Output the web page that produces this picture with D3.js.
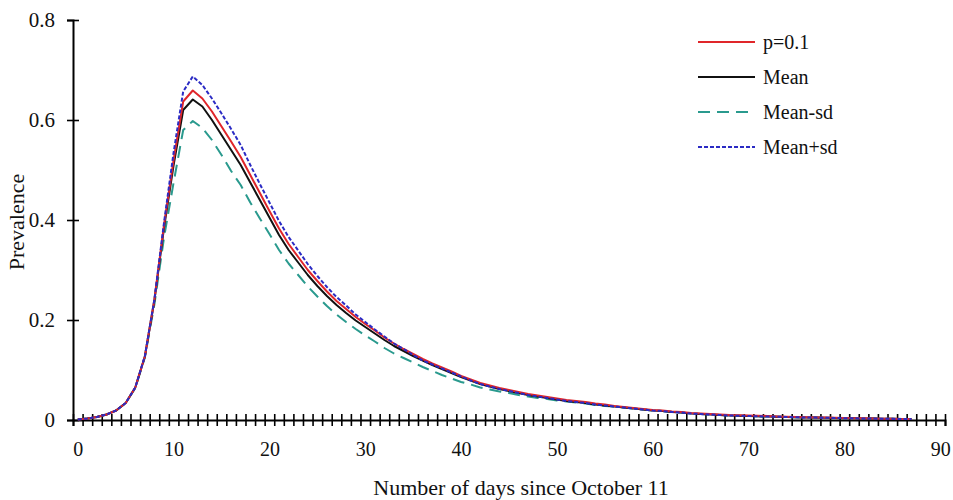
<!DOCTYPE html>
<html>
<head>
<meta charset="utf-8">
<script src="https://cdn.jsdelivr.net/npm/d3@7"></script>
<style>
  body { margin: 0; background: #fff; }
  text { font-family: "Liberation Serif", "Times New Roman", serif; }
</style>
</head>
<body>
<div id="chart"></div>
<script>
// days since October 11 (0..87)
var days = d3.range(0, 88);

var meanVals = [
  0.001, 0.003, 0.006, 0.011, 0.019, 0.034, 0.065, 0.127, 0.240, 0.385,
  0.510, 0.620, 0.641, 0.627, 0.600, 0.570, 0.540, 0.510, 0.475, 0.440,
  0.405, 0.370, 0.340, 0.315, 0.290, 0.268, 0.248, 0.230, 0.214, 0.199,
  0.186, 0.173, 0.160, 0.148, 0.138, 0.128, 0.119, 0.110, 0.102, 0.094,
  0.086, 0.079, 0.072, 0.067, 0.062, 0.058, 0.054, 0.050, 0.047, 0.044,
  0.041, 0.038, 0.036, 0.034, 0.031, 0.029, 0.027, 0.025, 0.023, 0.021,
  0.019, 0.018, 0.016, 0.015, 0.013, 0.012, 0.011, 0.010, 0.009, 0.0085,
  0.008, 0.0075, 0.007, 0.0065, 0.006, 0.0055, 0.005, 0.0048, 0.0045, 0.004,
  0.0037, 0.0034, 0.0031, 0.0028, 0.0025, 0.0023, 0.0021, 0.002
];

var p01Vals = [
  0.001, 0.003, 0.006, 0.011, 0.019, 0.034, 0.065, 0.127, 0.241, 0.390,
  0.520, 0.637, 0.659, 0.643, 0.617, 0.587, 0.557, 0.526, 0.490, 0.454,
  0.418, 0.383, 0.352, 0.326, 0.300, 0.278, 0.257, 0.238, 0.222, 0.206,
  0.192, 0.179, 0.165, 0.153, 0.142, 0.132, 0.122, 0.113, 0.105, 0.097,
  0.088, 0.081, 0.074, 0.069, 0.064, 0.060, 0.056, 0.052, 0.049, 0.046,
  0.043, 0.040, 0.038, 0.036, 0.033, 0.031, 0.028, 0.026, 0.024, 0.022,
  0.020, 0.019, 0.017, 0.016, 0.014, 0.013, 0.012, 0.011, 0.010, 0.0095,
  0.009, 0.0085, 0.008, 0.0072, 0.0066, 0.006, 0.0055, 0.0052, 0.0048, 0.0043,
  0.004, 0.0036, 0.0033, 0.003, 0.0027, 0.0025, 0.0022, 0.0021
];

var meanMinusSd = [
  0.001, 0.003, 0.006, 0.011, 0.019, 0.034, 0.064, 0.125, 0.232, 0.365,
  0.475, 0.580, 0.598, 0.584, 0.560, 0.530, 0.498, 0.470, 0.435, 0.403,
  0.372, 0.340, 0.313, 0.290, 0.267, 0.247, 0.228, 0.211, 0.196, 0.182,
  0.169, 0.157, 0.144, 0.133, 0.124, 0.115, 0.106, 0.098, 0.090, 0.083,
  0.076, 0.071, 0.065, 0.061, 0.057, 0.054, 0.050, 0.047, 0.044, 0.042,
  0.039, 0.037, 0.035, 0.033, 0.030, 0.028, 0.027, 0.025, 0.023, 0.021,
  0.019, 0.018, 0.016, 0.015, 0.013, 0.012, 0.011, 0.010, 0.009, 0.0085,
  0.008, 0.0075, 0.007, 0.0065, 0.006, 0.0055, 0.005, 0.0048, 0.0045, 0.004,
  0.0037, 0.0034, 0.0031, 0.0028, 0.0025, 0.0023, 0.0021, 0.002
];

var meanPlusSd = [
  0.001, 0.003, 0.006, 0.011, 0.019, 0.034, 0.065, 0.128, 0.242, 0.395,
  0.535, 0.657, 0.687, 0.670, 0.643, 0.613, 0.582, 0.550, 0.510, 0.472,
  0.435, 0.398, 0.366, 0.339, 0.312, 0.288, 0.266, 0.246, 0.229, 0.211,
  0.196, 0.181, 0.167, 0.153, 0.142, 0.130, 0.119, 0.111, 0.103, 0.095,
  0.087, 0.079, 0.072, 0.067, 0.062, 0.058, 0.054, 0.050, 0.047, 0.044,
  0.041, 0.038, 0.036, 0.034, 0.031, 0.029, 0.027, 0.025, 0.023, 0.021,
  0.019, 0.018, 0.016, 0.015, 0.013, 0.012, 0.011, 0.010, 0.009, 0.0085,
  0.008, 0.0075, 0.007, 0.0065, 0.006, 0.0055, 0.005, 0.0048, 0.0045, 0.004,
  0.0037, 0.0034, 0.0031, 0.0028, 0.0025, 0.0023, 0.0021, 0.002
];

var seriesNames = ["p=0.1", "Mean", "Mean-sd", "Mean+sd"];
var yTicks = [0, 0.2, 0.4, 0.6, 0.8];
var xTickLabels = [0, 10, 20, 30, 40, 50, 60, 70, 80, 90];

// layout
var svgWidth = 953, svgHeight = 500;
var plotLeft = 73, plotRight = 945, plotTop = 20, plotBottom = 420;

var svg = d3.select("#chart").append("svg")
  .attr("width", svgWidth)
  .attr("height", svgHeight);

// category axis: each day sits in the middle of its slot
var x = d3.scaleLinear().domain([-0.5, 90.5]).range([plotLeft, plotRight]);
var y = d3.scaleLinear().domain([0, 0.8]).range([plotBottom, plotTop]);

// y axis
var yAxis = d3.axisLeft(y)
  .tickValues(yTicks)
  .tickSize(6)
  .tickPadding(12)
  .tickFormat(function(d) { return d === 0 ? "0" : d3.format(".1f")(d); });

var yAxisG = svg.append("g")
  .attr("transform", "translate(" + plotLeft + ",0)")
  .call(yAxis);
yAxisG.selectAll(".tick line").attr("x1", 6).attr("x2", -6).attr("stroke-width", 1.6);
yAxisG.select(".domain").attr("stroke-width", 2);
yAxisG.selectAll("text").attr("font-size", 21).attr("fill", "#111");

// x axis: tick marks on category boundaries
var xBoundaries = d3.range(-0.5, 91, 1);
var xTickAxis = d3.axisBottom(x)
  .tickValues(xBoundaries)
  .tickSize(6)
  .tickFormat("");
var xTickG = svg.append("g")
  .attr("transform", "translate(0," + plotBottom + ")")
  .call(xTickAxis);
xTickG.selectAll(".tick line").attr("y1", -6).attr("y2", 6).attr("stroke-width", 1.6);
xTickG.select(".domain").attr("stroke-width", 2);

// x axis labels at category centres
var xLabelAxis = d3.axisBottom(x)
  .tickValues(xTickLabels)
  .tickSize(0)
  .tickPadding(22);
var xLabelG = svg.append("g")
  .attr("transform", "translate(0," + plotBottom + ")")
  .call(xLabelAxis);
xLabelG.select(".domain").remove();
xLabelG.selectAll("text").attr("font-size", 20).attr("fill", "#111");

// axis titles
svg.append("text")
  .attr("x", 521)
  .attr("y", 495)
  .attr("text-anchor", "middle")
  .attr("font-size", 22)
  .attr("fill", "#111")
  .text("Number of days since October 11");

svg.append("text")
  .attr("transform", "translate(24,222) rotate(-90)")
  .attr("text-anchor", "middle")
  .attr("font-size", 22)
  .attr("fill", "#111")
  .text("Prevalence");

// lines
var styles = {
  "p=0.1":   { color: "#e0262a", dash: null,  width: 2 },
  "Mean":    { color: "#111111", dash: null,  width: 2 },
  "Mean-sd": { color: "#2a9a8e", dash: "12,7", width: 2 },
  "Mean+sd": { color: "#2b2bc4", dash: "4,2", width: 2 }
};
var seriesData = {
  "p=0.1": p01Vals,
  "Mean": meanVals,
  "Mean-sd": meanMinusSd,
  "Mean+sd": meanPlusSd
};

var line = d3.line()
  .x(function(d) { return x(d[0]); })
  .y(function(d) { return y(d[1]); });

// draw order: mean-sd, mean, p=0.1, mean+sd on top
["Mean-sd", "Mean", "p=0.1", "Mean+sd"].forEach(function(name) {
  var vals = seriesData[name];
  var pts = days.map(function(d, i) { return [d, vals[i]]; });
  svg.append("path")
    .datum(pts)
    .attr("fill", "none")
    .attr("stroke", styles[name].color)
    .attr("stroke-width", styles[name].width)
    .attr("stroke-dasharray", styles[name].dash)
    .attr("stroke-linejoin", "round")
    .attr("d", line);
});

// legend
var legend = svg.append("g").attr("transform", "translate(698,42)");
seriesNames.forEach(function(name, i) {
  var row = legend.append("g").attr("transform", "translate(0," + (i * 35) + ")");
  row.append("line")
    .attr("x1", 0).attr("x2", 57)
    .attr("y1", 0).attr("y2", 0)
    .attr("stroke", styles[name].color)
    .attr("stroke-width", 2)
    .attr("stroke-dasharray", styles[name].dash);
  row.append("text")
    .attr("x", 65)
    .attr("y", 0)
    .attr("dy", "0.35em")
    .attr("font-size", 20)
    .attr("fill", "#111")
    .text(name);
});
</script>
</body>
</html>
